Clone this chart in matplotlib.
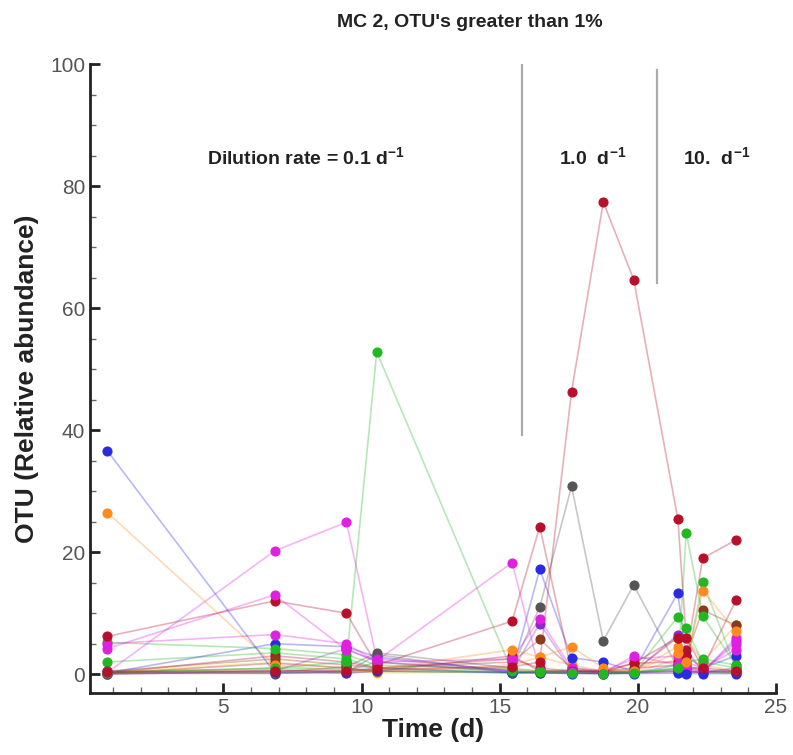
#!/usr/bin/env python3
"""MC 2 community: relative abundance of OTUs above 1% over time."""

import matplotlib
matplotlib.use('Agg')
import matplotlib.pyplot as plt
from matplotlib.ticker import MultipleLocator

# sampling days
time_d = [0.8, 6.85, 9.45, 10.55, 15.45, 16.45, 17.6, 18.75, 19.85, 21.45, 21.75, 22.35, 23.55]

# OTU relative abundance (%) per sampling day
otu_red1 = [0.3, 0.6, 0.5, 0.8, 1.2, 2.0, 46.3, 77.4, 64.7, 25.4, 5.9, 1.0, 0.5]
otu_green1 = [0.2, 1.0, 2.0, 52.8, 0.5, 0.3, 0.2, 0.1, 0.2, 1.0, 23.2, 9.5, 1.5]
otu_blue1 = [36.6, 0.3, 0.2, 0.5, 0.3, 0.2, 0.1, 0.1, 0.1, 0.2, 0.1, 0.1, 0.1]
otu_orange1 = [26.5, 1.5, 0.5, 0.8, 4.0, 2.8, 4.5, 1.0, 0.5, 3.5, 2.0, 13.7, 7.0]
otu_magenta1 = [0.3, 20.2, 24.9, 2.5, 0.6, 0.3, 0.2, 0.1, 0.2, 0.5, 0.5, 0.3, 6.0]
otu_magenta2 = [4.2, 13.0, 4.0, 2.2, 18.3, 0.5, 0.3, 0.2, 3.0, 1.5, 1.0, 0.5, 5.0]
otu_red2 = [6.2, 12.0, 10.0, 1.5, 8.7, 24.2, 0.5, 0.3, 1.8, 6.0, 3.0, 19.0, 22.0]
otu_magenta3 = [5.0, 6.5, 5.0, 2.0, 2.5, 9.0, 1.0, 0.5, 2.5, 3.0, 2.0, 1.0, 4.0]
otu_green2 = [5.2, 4.2, 3.2, 1.5, 0.8, 0.5, 0.3, 0.2, 0.3, 9.4, 7.5, 2.0, 1.0]
otu_gray1 = [0.5, 0.3, 1.2, 3.5, 1.0, 11.0, 30.8, 5.5, 14.6, 1.0, 0.5, 0.3, 0.2]
otu_blue2 = [0.2, 5.0, 4.5, 2.8, 0.5, 17.2, 2.7, 2.0, 0.5, 13.3, 3.0, 1.0, 3.0]
otu_brown1 = [0.5, 2.5, 1.5, 1.0, 2.0, 5.7, 1.0, 0.5, 0.5, 6.0, 3.0, 10.5, 8.0]
otu_red3 = [0.2, 3.0, 2.0, 1.0, 2.5, 1.0, 0.5, 0.5, 1.8, 2.0, 1.0, 1.0, 12.1]
otu_green3 = [2.0, 3.5, 2.5, 1.0, 0.3, 0.5, 0.5, 0.3, 0.2, 1.0, 1.5, 15.1, 1.0]
otu_purple1 = [0.1, 0.5, 4.2, 2.0, 0.5, 8.3, 0.5, 0.3, 0.3, 6.5, 1.5, 0.5, 5.5]
otu_orange2 = [0.1, 0.3, 0.3, 0.5, 1.5, 2.8, 1.5, 0.5, 0.5, 4.5, 6.0, 2.0, 8.0]
otu_slate1 = [0.1, 0.2, 0.3, 3.2, 0.2, 0.5, 0.3, 0.2, 0.2, 1.5, 0.8, 0.5, 0.3]
otu_slate2 = [0.2, 0.1, 0.5, 2.0, 0.3, 0.2, 0.2, 0.1, 0.3, 0.6, 0.4, 0.3, 0.5]
otu_green4 = [0.3, 1.0, 0.8, 0.5, 0.2, 0.3, 0.2, 0.2, 0.4, 0.8, 2.0, 2.5, 1.5]
otu_red4 = [0.1, 1.8, 1.0, 0.5, 3.0, 0.5, 0.5, 0.5, 1.0, 1.5, 4.0, 0.5, 0.5]
otu_blue3 = [0.0, 0.5, 0.5, 1.0, 0.2, 0.3, 0.5, 0.5, 0.3, 0.5, 0.5, 0.3, 1.0]
otu_yellow1 = [0.3, 2.0, 1.0, 0.2, 0.3, 0.3, 0.2, 0.2, 0.2, 0.2, 0.3, 0.3, 0.2]
otu_orange3 = [0.5, 0.8, 0.2, 0.4, 1.0, 0.5, 0.8, 0.3, 0.2, 2.5, 0.5, 1.5, 0.5]

# dilution-rate phase boundaries and labels
phase_x = [15.8, 20.7]
phase_top = [99.8, 99.0]
phase_bottom = [39.2, 64.1]
phase_labels = ['Dilution rate = 0.1 d$^{\\mathregular{-1}}$',
                '1.0  d$^{\\mathregular{-1}}$',
                '10.  d$^{\\mathregular{-1}}$']
phase_label_x = [8.0, 18.35, 22.85]

RED, GREEN, BLUE = '#b8102a', '#22b822', '#2a2ae0'
MAGENTA, ORANGE, GRAY = '#e020e0', '#ff8a1e', '#555555'
BROWN, PURPLE, SLATE, YELLOW = '#8b3a1a', '#8a2ad0', '#4a4a66', '#e8d020'

series = [
    (otu_yellow1, YELLOW), (otu_orange3, ORANGE), (otu_blue3, BLUE),
    (otu_red4, RED), (otu_green4, GREEN), (otu_slate2, SLATE),
    (otu_slate1, SLATE), (otu_orange2, ORANGE), (otu_purple1, PURPLE),
    (otu_green3, GREEN), (otu_red3, RED), (otu_brown1, BROWN),
    (otu_blue2, BLUE), (otu_gray1, GRAY), (otu_green2, GREEN),
    (otu_magenta3, MAGENTA), (otu_red2, RED), (otu_magenta2, MAGENTA),
    (otu_magenta1, MAGENTA), (otu_orange1, ORANGE), (otu_blue1, BLUE),
    (otu_green1, GREEN), (otu_red1, RED),
]

plt.rcParams['font.family'] = ['Liberation Sans', 'DejaVu Sans']

fig = plt.figure(figsize=(7.93, 7.55), dpi=100)
ax = fig.add_axes([0.1135, 0.082, 0.865, 0.833])

for vals, col in series:
    ax.plot(time_d, vals, '-', color=col, alpha=0.33, lw=1.2, zorder=2)
    ax.plot(time_d, vals, 'o', color=col, ms=6.3, mec=col, zorder=3)

# phase separators
for px, top, bot in zip(phase_x, phase_top, phase_bottom):
    ax.plot([px, px], [bot, top], color='#aaaaaa', lw=1.6, zorder=1)

for lx, lab in zip(phase_label_x, phase_labels):
    ax.text(lx, 84.6, lab, ha='center', va='center', fontsize=14,
            fontweight='bold', color='#222222')

ax.set_xlim(0.17, 25)
ax.set_ylim(-3.1, 100)
ax.xaxis.set_major_locator(MultipleLocator(5))
ax.xaxis.set_minor_locator(MultipleLocator(1))
ax.yaxis.set_major_locator(MultipleLocator(20))
ax.yaxis.set_minor_locator(MultipleLocator(5))
ax.set_xticks([5, 10, 15, 20, 25])

for side in ['top', 'right']:
    ax.spines[side].set_visible(False)
for side in ['left', 'bottom']:
    ax.spines[side].set_linewidth(2)
    ax.spines[side].set_color('#222222')

ax.tick_params(which='major', direction='in', length=7, width=2,
               labelsize=15, labelcolor='#555555', color='#222222')
ax.tick_params(which='minor', direction='in', length=4, width=1,
               color='#666666')

ax.set_xlabel('Time (d)', fontsize=19, fontweight='bold', color='#222222',
              labelpad=1)
ax.set_ylabel('OTU (Relative abundance)', fontsize=19, fontweight='bold',
              color='#222222', labelpad=8)

fig.text(0.593, 0.97, "MC 2, OTU's greater than 1%", ha='center', va='center',
         fontsize=14, fontweight='bold', color='#222222')

fig.savefig('out.png', dpi=100, facecolor='white')
plt.close(fig)
